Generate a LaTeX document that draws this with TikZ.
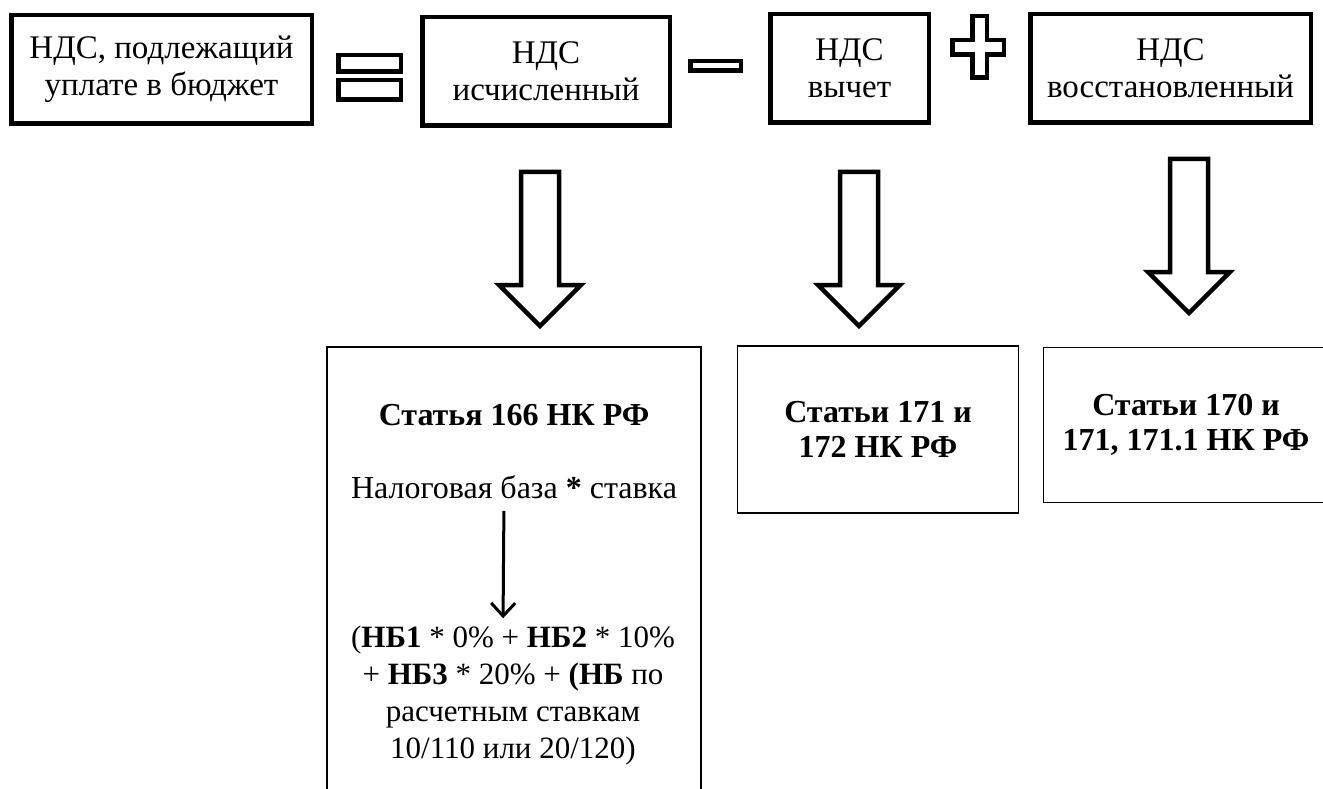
\documentclass[tikz,border=0pt]{standalone}
\usepackage{fontspec}
\setmainfont{Liberation Serif}
\usetikzlibrary{arrows.meta}

\tikzset{
  topbox/.style={draw, line width=4.5pt, align=center, inner sep=0pt, minimum height=108.5pt},
  lowbox/.style={line width=1.3pt},
  lowtxt/.style={align=center, inner sep=0pt, font=\lowsize},
  opsign/.style={line width=4.5pt},
  hollow/.style={line width=4.5pt, line join=miter},
}
\newcommand{\topsize}{\fontsize{33}{37}\selectfont}
\newcommand{\lowsize}{\fontsize{32}{35}\selectfont}

\begin{document}
\begin{tikzpicture}[x=1pt,y=-1pt,font=\topsize]
\useasboundingbox (0,0) rectangle (1323,789);
% top row
\node[topbox, minimum width=300.5pt] (vat) at (161.5,69.5) {НДС, подлежащий\\уплате в бюджет};
\node[topbox, minimum width=247.5pt] (calc) at (546,71.5) {НДС\\исчисленный};
\node[topbox, minimum width=158.5pt] (deduct) at (849.5,68.5) {НДС\\вычет};
\node[topbox, minimum width=280.5pt] (restore) at (1170.5,68.5) {НДС\\восстановленный};
% signs
\draw[opsign] (338.25,55.25) rectangle (400.75,71.75);
\draw[opsign] (338.25,80.25) rectangle (400.75,99.75);
\draw[opsign] (690.25,61.25) rectangle (740.75,70.75);
\draw[opsign] (972.25,16.25) -- (986.75,16.25) -- (986.75,40.25) -- (1003.75,40.25) -- (1003.75,54.75)
  -- (986.75,54.75) -- (986.75,77.75) -- (972.25,77.75) -- (972.25,54.75) -- (952.25,54.75)
  -- (952.25,40.25) -- (972.25,40.25) -- cycle;
% big arrows
\foreach \cx/\ytop/\ytip in {540/172/326, 859/172/326, 1189/159/313} {
  \draw[hollow] ({\cx-19},\ytop) -- ({\cx+19},\ytop) -- ({\cx+19},{\ytip-41}) -- ({\cx+41},{\ytip-41})
    -- (\cx,\ytip) -- ({\cx-41},{\ytip-41}) -- ({\cx-19},{\ytip-41}) -- cycle;
}
% lower boxes
\draw[lowbox] (327,792) -- (327,347) -- (701,347) -- (701,792);
\node[lowbox, draw, minimum width=281pt, minimum height=167pt, lowtxt, font=\lowsize\bfseries] (art171) at (878,429.5) {Статьи 171 и\\172 НК РФ};
\node[lowbox, draw, minimum width=285pt, minimum height=155pt, lowtxt, font=\lowsize\bfseries] (art170) at (1186,425) {Статьи 170 и\\171, 171.1 НК РФ};
\node[lowtxt, font=\lowsize\bfseries] (art166) at (514,415) {Статья 166 НК РФ};
\node[lowtxt] (base) at (514,487) {Налоговая база \textbf{*} ставка};
\node[lowtxt, font=\fontsize{31}{37}\selectfont] (formula) at (513,696)
  {(\textbf{НБ1} * 0\% + \textbf{НБ2} * 10\%\\+ \textbf{НБ3} * 20\% + \textbf{(НБ} по\\расчетным ставкам\\10/110 или 20/120)};
\draw[line width=3pt, -{Straight Barb[length=13pt, width=24pt]}, shorten <=12pt, shorten >=8pt]
  ([xshift=-10pt]base.south) -- ([xshift=-10pt]formula.north);
\end{tikzpicture}
\end{document}
